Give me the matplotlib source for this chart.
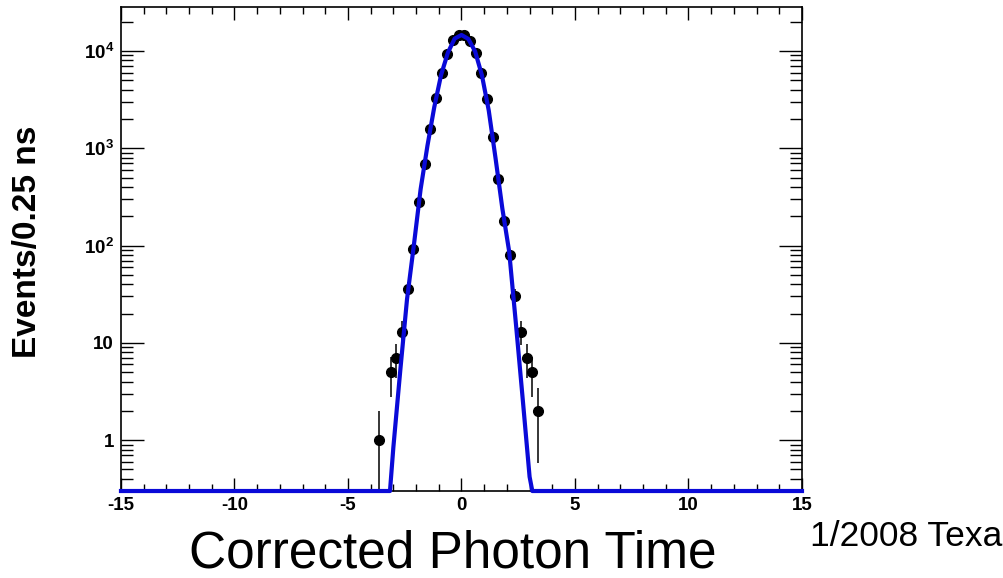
import numpy as np
import matplotlib
matplotlib.use('Agg')
import matplotlib.pyplot as plt
from matplotlib.ticker import MultipleLocator, LogLocator, NullFormatter

plt.rcParams['font.family'] = ['Liberation Sans', 'DejaVu Sans']
plt.rcParams['axes.unicode_minus'] = False
plt.rcParams['mathtext.fontset'] = 'custom'
plt.rcParams['mathtext.rm'] = 'Liberation Sans:bold'
plt.rcParams['mathtext.bf'] = 'Liberation Sans:bold'
plt.rcParams['mathtext.it'] = 'Liberation Sans:bold'

# photon time histogram (0.25 ns bins)
bin_centers = [-3.625, -3.125, -2.875, -2.625, -2.375, -2.125, -1.875, -1.625, -1.375,
               -1.125, -0.875, -0.625, -0.375, -0.125, 0.125, 0.375, 0.625, 0.875,
               1.125, 1.375, 1.625, 1.875, 2.125, 2.375, 2.625, 2.875, 3.125, 3.375]
counts = [1, 5, 7, 13, 36, 92, 280, 690, 1570, 3300, 6000, 9300, 13000, 14500,
          14500, 12800, 9600, 6000, 3200, 1310, 480, 180, 80, 30, 13, 7, 5, 2]

# gaussian fit curve as drawn (sampled points)
fit_x = [-15, -3.15, -3.0, -2.7, -2.4, -2.1, -1.8, -1.5, -1.2, -0.9, -0.6, -0.3, 0.0,
         0.3, 0.6, 0.9, 1.2, 1.5, 1.8, 2.1, 2.4, 2.7, 3.0, 3.12, 15]
fit_y = [0.3, 0.3, 0.85, 5.1, 28, 100, 380, 1060, 2640, 5650, 9600, 13400, 14600,
         13300, 9900, 5630, 2450, 790, 240, 87, 15.5, 2.6, 0.42, 0.3, 0.3]

x_ticks = [-15, -10, -5, 0, 5, 10, 15]
y_ticks = [1, 10, 100, 1000, 10000]
y_ticklabels = ['1', '10', r'$10^{2}$', r'$10^{3}$', r'$10^{4}$']

fig = plt.figure(figsize=(10.04, 5.78), dpi=100)
ax = fig.add_axes([0.1205, 0.1505, 0.6783, 0.8374])

counts = np.array(counts, dtype=float)
err = np.sqrt(counts)
lower = np.maximum(counts - err, 1e-3)
ax.errorbar(bin_centers, counts, yerr=[counts - lower, err], fmt='o', color='black',
            ms=7, elinewidth=1.1, capsize=0, zorder=3)

ax.plot(fit_x, fit_y, color='#0a0ad8', lw=3, zorder=4, clip_on=False,
        solid_joinstyle='round')

ax.set_yscale('log')
ax.set_xlim(-15, 15)
ax.set_ylim(0.3, 28300)

ax.set_xticks(x_ticks, labels=[str(t) for t in x_ticks])
ax.xaxis.set_minor_locator(MultipleLocator(1))
ax.set_yticks(y_ticks, labels=y_ticklabels)
ax.yaxis.set_minor_locator(LogLocator(base=10, subs=np.arange(2, 10)))
ax.yaxis.set_minor_formatter(NullFormatter())

ax.tick_params(axis='both', which='both', direction='in', top=True, right=True,
               width=1.0, colors='black')
ax.tick_params(axis='x', which='major', length=9.4, pad=4)
ax.tick_params(axis='x', which='minor', length=5)
ax.tick_params(axis='y', which='major', length=16.5, pad=5)
ax.tick_params(axis='y', which='minor', length=8.6)
for lab in ax.get_xticklabels() + ax.get_yticklabels():
    lab.set_fontsize(13.5)
    lab.set_fontweight('bold')
for sp in ax.spines.values():
    sp.set_linewidth(1.2)

fig.text(28 / 1004, 1 - 242 / 578, 'Events/0.25 ns', rotation=90, fontsize=24,
         fontweight='bold', ha='center', va='center')
fig.text(453 / 1004, 1 - 568 / 578, 'Corrected Photon Time', fontsize=37,
         ha='center', va='baseline')
fig.text(810 / 1004, 1 - 546 / 578, '1/2008 Texa', fontsize=25.5,
         ha='left', va='baseline')

fig.savefig('out.png', dpi=100)
